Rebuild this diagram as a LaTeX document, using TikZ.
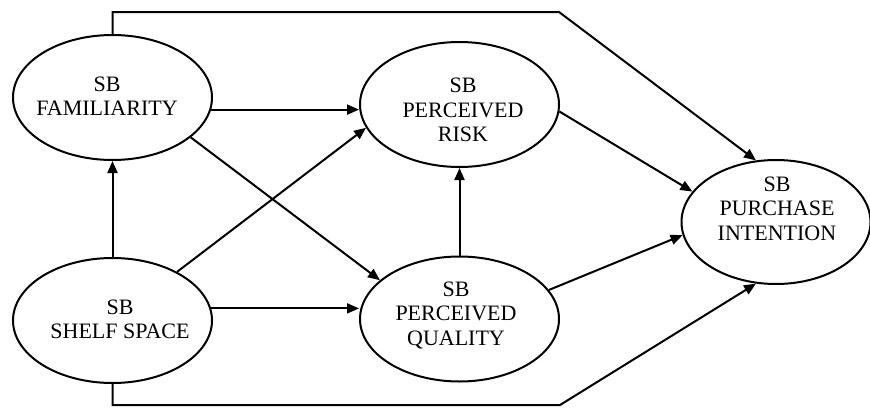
\documentclass[tikz,border=0pt]{standalone}
\usepackage{fontspec}
\setmainfont{Liberation Serif}
\usetikzlibrary{shapes.geometric,arrows.meta}
\begin{document}
\begin{tikzpicture}[x=1pt,y=-1pt,
  ell/.style={draw, ellipse, line width=2pt, inner sep=0pt, minimum width=199pt, minimum height=125pt},
  txt/.style={align=center, inner sep=0pt, font=\fontsize{22}{24.5}\selectfont},
  arr/.style={line width=2pt, -{Triangle[length=12pt,width=10pt]}},
  ln/.style={line width=2pt}]
\useasboundingbox (0,0) rectangle (870,407);
\node[ell] (fam) at (112.5,97.5) {};
\node[ell] (shelf) at (112.5,320.5) {};
\node[ell] (risk) at (459.5,104.5) {};
\node[ell] (qual) at (459.5,319) {};
\node[ell, minimum width=189pt, minimum height=124pt] (pi) at (776,222) {};
\node[txt] (famt) at (107,96) {SB\\FAMILIARITY};
\node[txt] (shelft) at (120,319.5) {SB\\SHELF SPACE};
\node[txt] (riskt) at (463,110) {SB\\PERCEIVED\\RISK};
\node[txt] (qualt) at (456,315) {SB\\PERCEIVED\\QUALITY};
\node[txt] (pit) at (777,208.5) {SB\\PURCHASE\\INTENTION};
\coordinate (tc) at (559,12);
\coordinate (bc) at (560,405);
% routes
\draw[arr] (fam.north) |- (tc) -- (pi.108);
\draw[arr] (shelf.south) |- (bc) -- (pi.-108);
% straight arrows
\draw[arr] (fam.-7.3) -- (fam.-7.3 -| risk.west);
\draw[arr] (shelf.7.3) -- (shelf.7.3 -| qual.west);
\draw[arr] (fam.-27) -- (qual.154);
\draw[arr] (shelf.37) -- (risk.-166);
\draw[arr] (shelf.north) -- (fam.south);
\draw[arr] (qual.north) -- (risk.south);
\draw[arr] (risk.-4.3) -- (pi.160.8);
\draw[arr] (qual.18.7) -- (pi.-172);
\end{tikzpicture}
\end{document}
